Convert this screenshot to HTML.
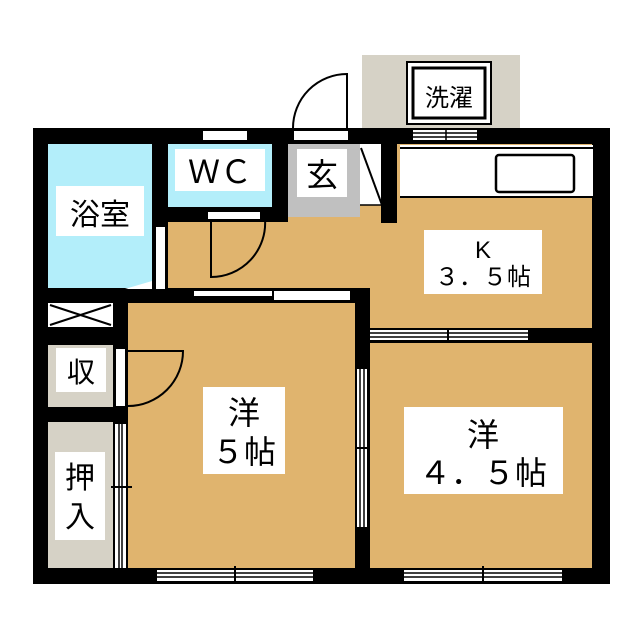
<!DOCTYPE html>
<html><head><meta charset="utf-8"><style>
html,body{margin:0;padding:0;background:#fff;width:640px;height:640px;overflow:hidden}
text{font-family:"Liberation Sans","Noto Sans CJK JP",sans-serif;fill:#000}
</style></head><body>
<svg width="640" height="640" viewBox="0 0 640 640" xmlns="http://www.w3.org/2000/svg">
<rect x="362" y="55" width="158" height="75" fill="#d6d2c6"/>
<rect x="407" y="62" width="84" height="62" fill="#fff" stroke="#000" stroke-width="2"/>
<rect x="413" y="68" width="72" height="50" fill="#fff" stroke="#000" stroke-width="3"/>
<text x="449" y="106" font-size="24" text-anchor="middle">洗濯</text>
<path d="M347,128 L347,74 A54,54 0 0 0 293,128" fill="none" stroke="#000" stroke-width="2"/>
<rect x="33" y="128" width="577" height="456" fill="#000"/>
<rect x="48" y="144" width="104" height="144" fill="#b3eefa"/>
<rect x="168" y="144" width="104" height="63" fill="#b3eefa"/>
<rect x="288" y="144" width="72" height="73" fill="#c0c0c0"/>
<rect x="168" y="222" width="192" height="66" fill="#e0b46e"/>
<rect x="288" y="217" width="72" height="71" fill="#e0b46e"/>
<rect x="360" y="144" width="232" height="184" fill="#e0b46e"/>
<rect x="360" y="144" width="22" height="61" fill="#fff"/>
<line x1="361" y1="148" x2="382" y2="205" stroke="#000" stroke-width="2"/>
<line x1="360" y1="205" x2="382" y2="205" stroke="#000" stroke-width="1.5"/>
<rect x="381" y="144" width="16" height="79" fill="#000"/>
<rect x="400" y="145" width="193" height="52" fill="#fff"/>
<line x1="400" y1="148" x2="593" y2="148" stroke="#000" stroke-width="2"/>
<line x1="400" y1="197" x2="593" y2="197" stroke="#000" stroke-width="2"/>
<rect x="496" y="155" width="78" height="37" rx="3" fill="#fff" stroke="#000" stroke-width="2.5"/>
<rect x="128" y="303" width="227" height="265" fill="#e0b46e"/>
<rect x="368" y="343" width="224" height="225" fill="#e0b46e"/>
<rect x="355" y="288" width="15" height="280" fill="#000"/>
<rect x="48" y="303" width="65" height="24" fill="#fff"/>
<path d="M50,305 L111,325 M111,305 L50,325" stroke="#000" stroke-width="2"/>
<rect x="48" y="345" width="65" height="62" fill="#d6d2c6"/>
<rect x="48" y="422" width="65" height="146" fill="#d6d2c6"/>
<rect x="203" y="131" width="44" height="9" fill="#fff"/>
<rect x="294" y="131" width="54" height="9" fill="#fff"/>
<rect x="208" y="212" width="52" height="7" fill="#fff"/>
<path d="M211,219 L211,277 A54,54 0 0 0 265,219" fill="none" stroke="#000" stroke-width="2"/>
<rect x="156" y="227" width="9" height="62" fill="#fff"/>
<path d="M125,289 L152,281 L152,289 Z" fill="#fff"/>
<rect x="413" y="130" width="64" height="10" fill="#fff"/>
<path d="M413,133 H477 M413,137 H477 M446,130 V140" stroke="#000" stroke-width="1.5"/>
<rect x="194" y="291" width="78" height="5" fill="#fff"/>
<rect x="274" y="291" width="76" height="9" fill="#fff"/>
<rect x="370" y="330" width="158" height="10" fill="#fff"/>
<path d="M370,333 H528 M370,337 H528" stroke="#000" stroke-width="1.5"/>
<line x1="448" y1="328" x2="448" y2="343" stroke="#000" stroke-width="2"/>
<rect x="357" y="369" width="10" height="158" fill="#fff"/>
<path d="M360,369 V527 M364,369 V527" stroke="#000" stroke-width="1.5"/>
<line x1="355" y1="448" x2="370" y2="448" stroke="#000" stroke-width="2"/>
<rect x="115" y="424" width="11" height="144" fill="#fff"/>
<path d="M119,424 V568 M122,424 V568" stroke="#000" stroke-width="1.5"/>
<line x1="111" y1="487" x2="132" y2="487" stroke="#000" stroke-width="2"/>
<rect x="116" y="349" width="9" height="57" fill="#fff"/>
<path d="M128,351 L183,351 A55,55 0 0 1 128,406" fill="none" stroke="#000" stroke-width="2"/>
<rect x="157" y="570" width="156" height="11" fill="#fff"/>
<path d="M157,573 H313 M157,577 H313" stroke="#000" stroke-width="1.5"/>
<line x1="235" y1="566" x2="235" y2="584" stroke="#000" stroke-width="2"/>
<rect x="404" y="570" width="158" height="11" fill="#fff"/>
<path d="M404,573 H562 M404,577 H562" stroke="#000" stroke-width="1.5"/>
<line x1="483" y1="566" x2="483" y2="584" stroke="#000" stroke-width="2"/>
<rect x="56" y="186" width="88" height="50" fill="#fff"/>
<text x="100" y="225" font-size="30" text-anchor="middle">浴室</text>
<rect x="175" y="149" width="90" height="42" fill="#fff"/>
<text x="220" y="183" font-size="32" text-anchor="middle">ＷＣ</text>
<rect x="297" y="149" width="50" height="48" fill="#fff"/>
<text x="322" y="186" font-size="32" text-anchor="middle">玄</text>
<rect x="424" y="230" width="118" height="64" fill="#fff"/>
<text x="483" y="258" font-size="24" text-anchor="middle">K</text>
<text x="483" y="285" font-size="24" text-anchor="middle">３．５帖</text>
<rect x="56" y="348" width="50" height="44" fill="#fff"/>
<text x="81" y="382" font-size="28" text-anchor="middle">収</text>
<rect x="55" y="452" width="50" height="88" fill="#fff"/>
<text x="80" y="488" font-size="30" text-anchor="middle">押</text>
<text x="80" y="527" font-size="30" text-anchor="middle">入</text>
<rect x="203" y="387" width="82" height="87" fill="#fff"/>
<text x="244" y="424" font-size="32" text-anchor="middle">洋</text>
<text x="244" y="463" font-size="32" text-anchor="middle">５帖</text>
<rect x="404" y="407" width="159" height="87" fill="#fff"/>
<text x="483" y="446" font-size="32" text-anchor="middle">洋</text>
<text x="483" y="484" font-size="32" text-anchor="middle">４．５帖</text>
</svg>
</body></html>
